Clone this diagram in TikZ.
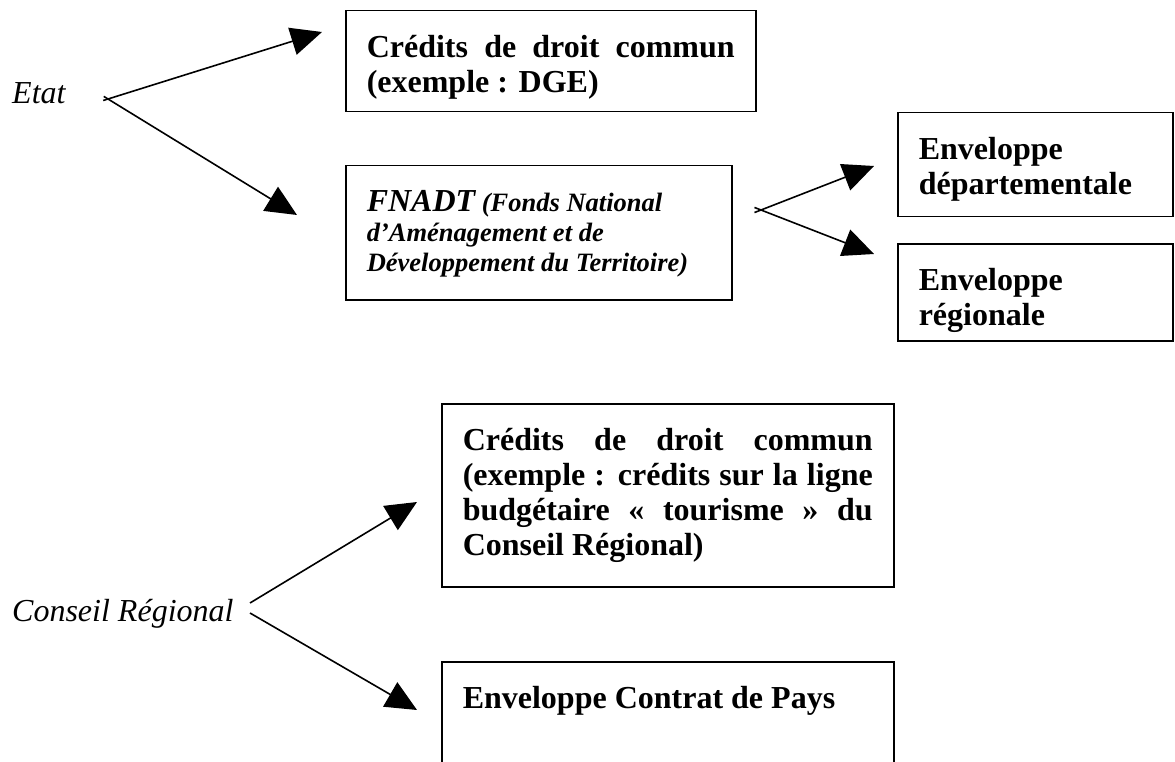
\documentclass[tikz,border=0pt]{standalone}
\usepackage{fontspec}
\setmainfont{Liberation Serif}
\usetikzlibrary{arrows.meta,calc}

\newcommand{\boxtxt}[3]{\parbox[t][#2][t]{#1}{#3}}

\tikzset{
  fund/.style={draw, line width=1.5pt, anchor=north west, inner xsep=21pt, inner ysep=25pt,
    font=\fontsize{32}{35}\selectfont\bfseries},
  source/.style={anchor=base west, inner sep=0pt, font=\fontsize{32}{35}\selectfont\itshape},
  flow/.style={line width=1.6pt, -{Triangle[length=31pt,width=28pt]}},
}

\begin{document}
\begin{tikzpicture}[x=1pt,y=-1pt]
\useasboundingbox (0,0) rectangle (1175,762);

% Etat
\node[source] (etat) at (12,104) {Etat};
\node[fund] (dge) at (345,10) {\boxtxt{368pt}{51pt}{Crédits de droit commun\linebreak(exemple~: DGE)}};
\node[fund] (fnadt) at (345,165) {\boxtxt{344pt}{84pt}{\fontsize{26.5}{30}\selectfont\itshape
  {\fontsize{32}{35}\selectfont FNADT} (Fonds National\\d’Aménagement et de\\Développement du Territoire)}};
\node[fund] (envdep) at (897,112) {\boxtxt{233pt}{54pt}{Enveloppe\\départementale}};
\node[fund] (envreg) at (897,243) {\boxtxt{233pt}{47pt}{Enveloppe\\régionale}};

\coordinate (etatfork) at (108,99);
\coordinate (dgetip) at (322,32);
\coordinate (fnadttip) at (297,215);
\draw[flow] ($(etatfork)!-5pt!(dgetip)$) -- (dgetip);
\draw[flow] ($(etatfork)!-5pt!(fnadttip)$) -- (fnadttip);

\coordinate (fnadtfork) at (761,210);
\coordinate (deptip) at (874,166);
\coordinate (regtip) at (874,254);
\draw[flow] ($(fnadtfork)!-7pt!(deptip)$) -- (deptip);
\draw[flow] ($(fnadtfork)!-7pt!(regtip)$) -- (regtip);

% Conseil Regional
\node[source] (conseil) at (12,621) {Conseil Régional};
\node[fund] (crdroit) at (441,403) {\boxtxt{410pt}{133pt}{Crédits de droit commun\linebreak
  (exemple~: crédits sur la ligne\linebreak budgétaire «~tourisme~» du\linebreak Conseil Régional)}};
\node[fund] (contrat) at (441,661) {\boxtxt{410pt}{150pt}{Enveloppe Contrat de Pays}};

\coordinate (crtop) at (250,603);
\coordinate (crbot) at (250,613);
\draw[flow] (crtop) -- (417,502) coordinate (crdroittip);
\draw[flow] (crbot) -- (417,710) coordinate (contrattip);
\end{tikzpicture}
\end{document}
